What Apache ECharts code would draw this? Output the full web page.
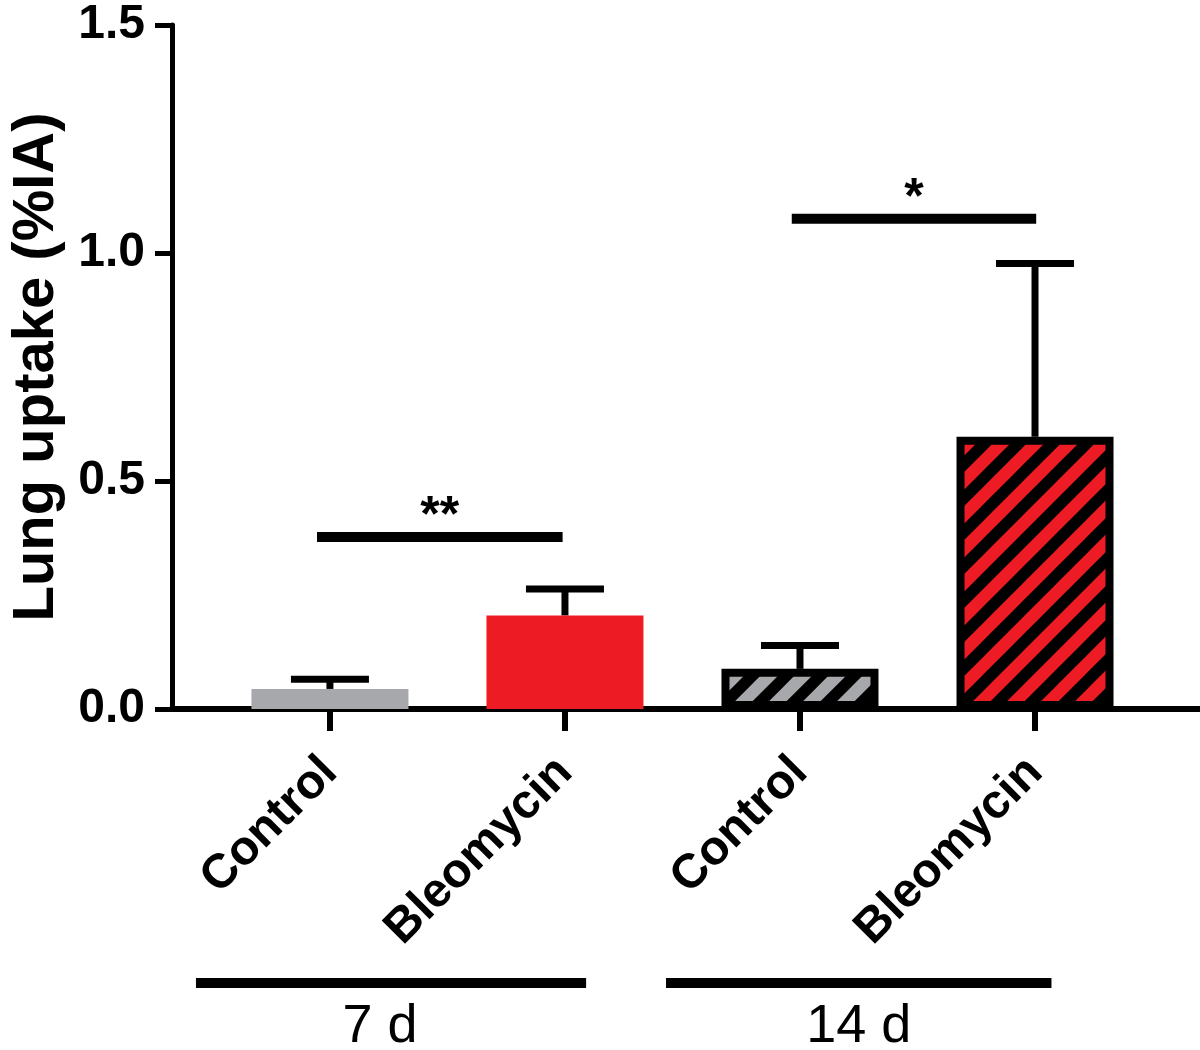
<!DOCTYPE html>
<html><head><meta charset="utf-8">
<script src="https://cdn.jsdelivr.net/npm/echarts@6/dist/echarts.min.js"></script>
<style>html,body{margin:0;padding:0;background:#fff}#c{width:1200px;height:1050px}</style>
</head><body><div id="c"></div>
<script>
// ---- data ----
const categories = ['Control', 'Bleomycin', 'Control', 'Bleomycin'];
const means = [0.044, 0.205, 0.088, 0.597];
const sems = [0.021, 0.058, 0.051, 0.380];
const yTicks = [0, 0.5, 1.0, 1.5];
const groupLabels = ['7 d', '14 d'];
const groupSpans = [[0.43, 2.09], [2.43, 4.07]];
const sigLabels = ['**', '*'];
const sigSpans = [[0.945, 1.99], [2.965, 4.005]];
const sigLevels = [0.377, 1.075];

// ---- styles ----
const FONT = 'Liberation Sans, Arial, Helvetica, sans-serif';
const RED = '#ed1c24';
const GRAY = '#a7a8ab';
function hatch(bg) {
  const P = 34;
  const c = document.createElement('canvas');
  c.width = P; c.height = P;
  const g = c.getContext('2d');
  g.fillStyle = bg; g.fillRect(0, 0, P, P);
  g.strokeStyle = '#000'; g.lineWidth = 11.5;
  g.beginPath();
  for (let k = -1; k <= 1; k++) {
    g.moveTo(k * P - P, P + P); g.lineTo(k * P + P + P, -P);
  }
  g.stroke();
  return { image: c, repeat: 'repeat' };
}
const barStyles = [
  { color: GRAY },
  { color: RED },
  { color: hatch(GRAY), borderColor: '#000', borderWidth: 8 },
  { color: hatch(RED), borderColor: '#000', borderWidth: 8 }
];
const positions = categories.map((c, i) => i + 1);

const chart = echarts.init(document.getElementById('c'), null, { renderer: 'canvas' });
chart.setOption({
  animation: false,
  backgroundColor: '#fff',
  grid: { left: 172, right: 0, top: 25, bottom: 341, containLabel: false },
  xAxis: {
    type: 'value', min: 0.328, max: 4.702,
    splitLine: { show: false },
    axisLine: { show: true, onZero: false, lineStyle: { color: '#000', width: 6 } },
    axisTick: { show: true, customValues: positions, length: 22, lineStyle: { color: '#000', width: 6 } },
    axisLabel: {
      show: true, customValues: positions, rotate: 45, margin: 56, hideOverlap: false,
      formatter: v => categories[Math.round(v) - 1] || '',
      color: '#000', fontSize: 48, fontWeight: 'bold', fontFamily: FONT
    }
  },
  yAxis: {
    type: 'value', min: 0, max: 1.5, interval: 0.5,
    name: 'Lung uptake (%IA)', nameLocation: 'middle', nameGap: 106,
    nameTextStyle: { color: '#000', fontSize: 58, fontWeight: 'bold', fontFamily: FONT },
    splitLine: { show: false },
    axisLine: { show: true, lineStyle: { color: '#000', width: 5 } },
    axisTick: { show: true, length: 17, lineStyle: { color: '#000', width: 5 } },
    axisLabel: {
      margin: 27, color: '#000', fontSize: 48, fontWeight: 'bold', fontFamily: FONT,
      formatter: v => (yTicks.indexOf(v) >= 0 ? v.toFixed(1) : '')
    }
  },
  series: [
    {
      type: 'bar', barWidth: 157,
      data: means.map((m, i) => ({ value: [positions[i], m], itemStyle: barStyles[i] }))
    },
    {
      type: 'custom', clip: false,
      data: means.map((m, i) => [positions[i], m, sems[i]]),
      encode: { x: 0, y: 1 },
      renderItem: (params, api) => {
        const x = api.value(0), m = api.value(1), e = api.value(2);
        const p0 = api.coord([x, m]), p1 = api.coord([x, m + e]);
        const st = { stroke: '#000', lineWidth: 7 };
        return { type: 'group', children: [
          { type: 'line', shape: { x1: p0[0], y1: p0[1], x2: p1[0], y2: p1[1] }, style: st },
          { type: 'line', shape: { x1: p1[0] - 39, y1: p1[1], x2: p1[0] + 39, y2: p1[1] }, style: st }
        ] };
      }
    },
    {
      type: 'custom', clip: false,
      data: sigSpans.map((s, i) => [s[0], s[1], sigLevels[i]]),
      encode: { x: [0, 1], y: 2 },
      renderItem: (params, api) => {
        const a = api.coord([api.value(0), api.value(2)]);
        const b = api.coord([api.value(1), api.value(2)]);
        return { type: 'group', children: [
          { type: 'line', shape: { x1: a[0], y1: a[1], x2: b[0], y2: b[1] }, style: { stroke: '#000', lineWidth: 10 } },
          { type: 'text', style: { text: sigLabels[params.dataIndex], x: (a[0] + b[0]) / 2, y: a[1] - 20,
            fill: '#000', fontSize: 50, fontWeight: 'bold', fontFamily: FONT, align: 'center', verticalAlign: 'middle' } }
        ] };
      }
    },
    {
      type: 'custom', clip: false,
      data: groupSpans.map(s => [s[0], s[1], 0]),
      encode: { x: [0, 1], y: 2 },
      renderItem: (params, api) => {
        const a = api.coord([api.value(0), 0]);
        const b = api.coord([api.value(1), 0]);
        const yl = a[1] + 274, yt = a[1] + 318;
        return { type: 'group', children: [
          { type: 'line', shape: { x1: a[0], y1: yl, x2: b[0], y2: yl }, style: { stroke: '#000', lineWidth: 10 } },
          { type: 'text', style: { text: groupLabels[params.dataIndex], x: (a[0] + b[0]) / 2 - (params.dataIndex === 0 ? 11 : 0), y: yt,
            fill: '#000', fontSize: 54, fontFamily: FONT, align: 'center', verticalAlign: 'middle' } }
        ] };
      }
    }
  ]
});
</script></body></html>
